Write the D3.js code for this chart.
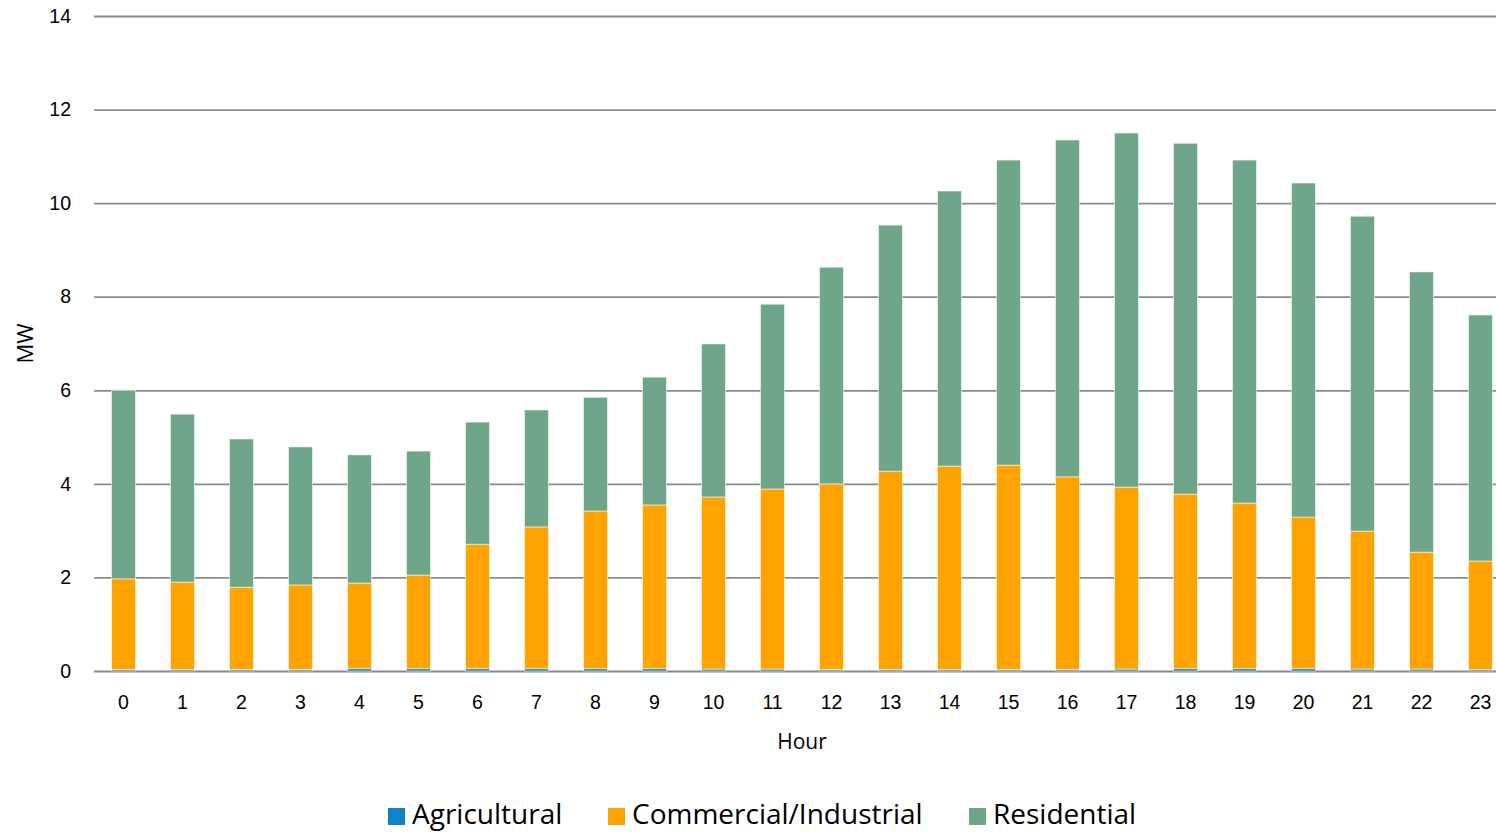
<!DOCTYPE html>
<html>
<head>
<meta charset="utf-8">
<script src="https://cdn.jsdelivr.net/npm/d3@7"></script>
<style>
  body { margin: 0; background: #fff; }
  svg { display: block; font-family: "Open Sans", "Noto Sans", sans-serif; }
</style>
</head>
<body>
<svg id="chart" width="1496" height="832"></svg>
<script>
// hourly load by sector, MW
const hours = d3.range(24).map(String);
const agricultural = [0.03, 0.03, 0.03, 0.03, 0.05, 0.05, 0.05, 0.05, 0.05, 0.05, 0.04, 0.04,
                      0.03, 0.03, 0.03, 0.03, 0.03, 0.04, 0.05, 0.05, 0.05, 0.04, 0.04, 0.03];
const commercial = [1.94, 1.87, 1.76, 1.81, 1.83, 2.00, 2.66, 3.03, 3.37, 3.50, 3.68, 3.85,
                    3.97, 4.24, 4.35, 4.37, 4.12, 3.89, 3.73, 3.54, 3.24, 2.95, 2.50, 2.32];
const residential = [4.03, 3.59, 3.17, 2.95, 2.74, 2.65, 2.61, 2.50, 2.43, 2.73, 3.27, 3.95,
                     4.63, 5.26, 5.88, 6.52, 7.20, 7.57, 7.50, 7.33, 7.14, 6.73, 5.99, 5.26];
const seriesNames = ["Agricultural", "Commercial/Industrial", "Residential"];
const seriesColors = ["#0c84c6", "#ffa300", "#6fa589"];
const yTicks = [0, 2, 4, 6, 8, 10, 12, 14];

const svg = d3.select("#chart");
const plotLeft = 94, plotRight = 1510, plotTop = 16, plotBottom = 671;

const rows = hours.map((h, i) => ({
  hour: h,
  Agricultural: agricultural[i],
  "Commercial/Industrial": commercial[i],
  Residential: residential[i]
}));
const stacked = d3.stack().keys(seriesNames)(rows);

const x = d3.scaleBand().domain(hours).range([plotLeft, plotRight])
  .paddingInner(0.593).paddingOuter(0.2966);
const y = d3.scaleLinear().domain([0, 14]).range([plotBottom, plotTop]);
const color = d3.scaleOrdinal().domain(seriesNames).range(seriesColors);

// gridlines + y labels
const yAxis = svg.append("g")
  .attr("transform", `translate(${plotLeft},0)`)
  .call(d3.axisLeft(y).tickValues(yTicks).tickSize(-(plotRight - plotLeft)).tickPadding(23));
yAxis.select(".domain").remove();
yAxis.selectAll(".tick line").attr("stroke", "#8a8a8a").attr("stroke-width", 1.8);
yAxis.selectAll(".tick text").attr("font-size", 19.5).attr("fill", "#000");

// bars
svg.append("g").selectAll("g")
  .data(stacked)
  .join("g")
  .attr("fill", d => color(d.key))
  .selectAll("rect")
  .data(d => d)
  .join("rect")
  .attr("x", d => x(d.data.hour))
  .attr("width", x.bandwidth())
  .attr("y", d => y(d[1]))
  .attr("height", d => y(d[0]) - y(d[1]))
  .attr("stroke", "rgba(255,255,255,0.55)")
  .attr("stroke-width", 1);

// x labels
const xAxis = svg.append("g")
  .attr("transform", `translate(0,${plotBottom})`)
  .call(d3.axisBottom(x).tickSize(0).tickPadding(24));
xAxis.select(".domain").remove();
xAxis.selectAll(".tick text").attr("font-size", 19.5).attr("fill", "#000");

// axis titles
svg.append("text")
  .attr("x", (plotLeft + plotRight) / 2).attr("y", 749)
  .attr("text-anchor", "middle").attr("font-size", 21)
  .text("Hour");
svg.append("text")
  .attr("transform", `translate(33,${(plotTop + plotBottom) / 2}) rotate(-90)`)
  .attr("text-anchor", "middle").attr("font-size", 22)
  .text("MW");

// legend
const legendX = [388, 608, 969];
const legend = svg.append("g").selectAll("g")
  .data(seriesNames)
  .join("g")
  .attr("transform", (d, i) => `translate(${legendX[i]},808)`);
legend.append("rect")
  .attr("width", 17).attr("height", 17)
  .attr("fill", d => color(d));
legend.append("text")
  .attr("x", 24).attr("y", 16)
  .attr("font-size", 28)
  .text(d => d);
</script>
</body>
</html>
